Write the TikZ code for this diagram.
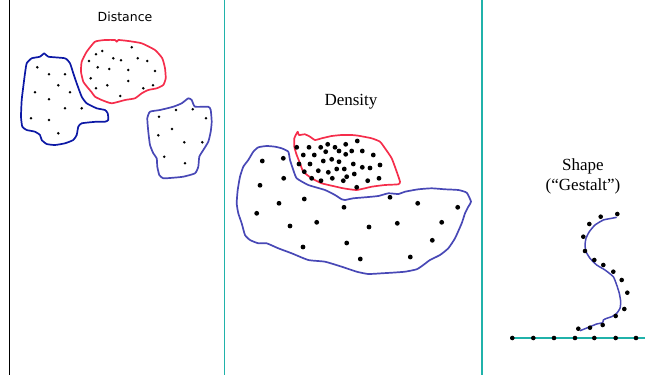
\documentclass[tikz,border=0pt]{standalone}
\usepackage{fontspec}
\setmainfont{Liberation Serif}
\newfontfamily\handfont{DejaVu Sans}
\usetikzlibrary{positioning}
\definecolor{divteal}{RGB}{32,178,170}
\definecolor{deepblue}{RGB}{12,24,165}
\definecolor{slateblue}{RGB}{72,72,182}
\definecolor{redline}{RGB}{245,45,75}

\begin{document}
\begin{tikzpicture}[x=1pt, y=-1pt,
  divider/.style={line width=1.5pt, draw=divteal},
  blob/.style={line width=1.7pt, line join=round},
  title/.style={font=\fontsize{17}{20}\selectfont, anchor=base, inner sep=0pt},
  handtitle/.style={font=\handfont\fontsize{12.5}{15}\selectfont, anchor=base, inner sep=0pt}]

\useasboundingbox (0,0) rectangle (645,375);

% panel borders
\draw[line width=1pt] (9.5,0) -- (9.5,375);
\draw[divider] (224.5,0) -- (224.5,375);
\draw[divider] (482,0) -- (482,375);

% panel 1: distance
\node[handtitle] (dist) at (125,21) {Distance};
\draw[blob, draw=deepblue] plot[smooth cycle, tension=0.3] coordinates {
  (44.3,53.3) (48.3,56.7) (65,58.3) (70,63.3) (73.3,73.3) (76.7,83.3) (81.7,96.7)
  (86.7,103.3) (96.7,108.3) (105,110) (107.7,113.3) (108.3,120) (105,121.7)
  (96.7,121.7) (81.7,123.3) (78.3,126.7) (76.7,135) (73.3,140) (65,143.3) (55,145)
  (46.7,144) (41.7,140) (40,135) (35,131.7) (26.7,130) (22.3,126.7) (21,116.7)
  (21.7,100) (23.3,86.7) (25,73.3) (26.7,63.3) (31.7,58.3) (40,56.7)};
\draw[blob, draw=redline] plot[smooth cycle, tension=0.3] coordinates {
  (95,41.7) (105,40) (115,40) (116.7,41.7) (118.3,40) (128.3,41) (141.7,43.3) (155,50)
  (162.3,58.3) (165,68.3) (165.7,78.3) (163.3,85) (156.7,88.3) (148.3,90) (141.7,93.3)
  (135,98.3) (125,100) (111.7,103.3) (101.7,100) (95,96.7) (91.7,92.3) (88.3,88.3)
  (83.3,81.7) (81,71.7) (81.7,61.7) (86.7,51.7)};
\draw[blob, draw=slateblue] plot[smooth cycle, tension=0.3] coordinates {
  (150,111.7) (160,110) (173.3,106.7) (181.7,103.3) (188.3,98.3) (191.7,100) (195,106.7)
  (208.3,106.7) (210.7,110) (211.7,121.7) (210.7,131.7) (208.3,141.7) (203.3,150)
  (199.3,156.7) (198.3,166.7) (195,173.3) (183.3,176.7) (173.3,177.7) (163.3,178.3)
  (159.3,175) (157.3,166.7) (156.7,158.3) (153.3,153.3) (150,145) (148.3,131.7) (147.3,118.3)};
\foreach \p in {(37.3,67.3),(49,74.3),(65,74.3),(58.3,85.3),(35,92.3),(70,92.3),
  (49,99.3),(65,108.3),(81.7,108.3),(31,118.3),(49,120),(58.3,133.3),
  (96,54.3),(102.3,51),(131.7,47.3),(89,61),(113.3,58.3),(121,60.3),(137.7,58.3),
  (147.3,61),(97.7,67.3),(109.3,69),(128.3,70),(155,71),(90.7,78.3),(128.3,81),
  (96,88.3),(107.3,85.3),(143.3,88.3),(153,85.3),(120.3,96),
  (159,116.7),(176,110),(192.7,109.3),(206,118.3),(172,129),(158.3,135.3),
  (184.3,142.3),(202.3,142.3),(164.3,156.7),(185,163.3)}
  \fill \p circle[radius=1.4pt];

% panel 2: density
\node[title] (dens) at (351,105.7) {Density};
\draw[blob, draw=slateblue] plot[smooth cycle, tension=0.3] coordinates {
  (253.3,151.7) (258.3,147.3) (266.7,146) (275,146.7) (281.7,148.3) (288.3,151.7)
  (290,160) (293.3,170) (296.7,178.3) (308.3,185) (325,190) (335,195) (341.7,199.3)
  (345,200) (353.3,198.3) (365,197.3) (378.3,196) (388.3,193.3) (398.3,194) (405,191.7)
  (418.3,189.3) (431.7,188.3) (445,189.3) (458.3,190) (466.7,192.7) (471,201.7)
  (468.3,206.7) (465,213.3) (461.7,223.3) (455,238.3) (448.3,248.3) (440,255) (430,260)
  (423.3,265) (416.7,269.3) (405,271.7) (391.7,272.7) (381.7,273.3) (368.3,274)
  (356.7,271.7) (341.7,266.7) (325,261.7) (308.3,260) (291.7,253.3) (278.3,248.3)
  (266.7,243.3) (258.3,243.3) (250,240) (245,235) (241.7,223.3) (238.3,213.3)
  (236.7,203.3) (237.7,190) (240,176.7) (243.3,166.7) (248.3,160)};
\draw[blob, draw=redline] plot[smooth cycle, tension=0.3] coordinates {
  (296.7,133.3) (297.7,131.7) (299,135) (305,134.3) (310,136.7) (315,140) (321.7,138.3)
  (331.7,136) (341.7,135) (351.7,135) (358.3,135.7) (371.7,138.3) (380,141.7) (385,148.3)
  (391.7,158.3) (396.7,171.7) (400,181.7) (398.3,184.3) (385,185) (371.7,186.7)
  (356.7,190) (343.3,188.3) (331.7,185.7) (321.7,183.3) (311.7,178.3) (303.3,171.7)
  (300,163.3) (296.7,155) (294.3,146.7) (294.3,138.3)};
\foreach \p in {(296.7,147.3),(309,147.3),(320.7,147.3),(327.7,144.3),(335,147.3),
  (345.7,144.3),(357.3,141),(303.3,155),(314.3,155),(325.7,151.7),(339,151),
  (345.7,154.3),(351.7,151),(362.3,151),(373.3,155),(299,164),(310,164),(323.3,161),
  (331.7,159.3),(339,161.7),(353.3,164),(362.3,167.3),(370,168),(380,165),
  (304.3,171.7),(318.3,170.7),(328.3,172.3),(336.7,169),(344.3,169),(354.3,174),
  (346.7,176.7),(311.7,178.3),(321,180.7),(332.3,178.3),(343.3,180.7),(367.7,180.7),
  (379,178.3),(356.7,187.3),
  (262.3,161),(283.3,158.3),(283.7,178.3),(260,185.3),(304.3,199),(279,203.3),
  (344,207.3),(390,197.3),(417.7,203.3),(457.7,207.3),(256.7,213.3),(290,226),
  (316.7,222.3),(369,227),(397.3,223.3),(441.7,222.3),(303,247),(346.7,243),
  (432.3,240.3),(360.3,259),(410.3,257)}
  \fill \p circle[radius=2.4pt];

% panel 3: shape
\node[title] (shape) at (583,170) {Shape};
\node[title] (gestalt) at (583,190) {(“Gestalt”)};
\draw[blob, draw=slateblue, line width=1.5pt] plot[smooth, tension=0.3] coordinates {
  (616.7,217.3) (611.7,218.3) (603.3,220) (595,225) (589.3,231.7) (586,238.3) (585,245)
  (586,251.7) (590,258.3) (596.7,265) (605,270) (613.3,276.7) (616.7,285) (619.3,293.3)
  (620.7,301.7) (620,308.3) (616.7,313.3) (611.7,316.7) (606.7,318.3) (603.3,320)
  (602.7,322.7) (596.7,324) (590,326.7) (580,330.7)};
\draw[divider, line width=1.8pt] (510,338) -- (645,338);
\foreach \p in {(617.3,214),(600.7,216.7),(589.3,224),(583.3,236.7),(585,251),
  (594.3,260),(603.3,265),(613.3,271.7),(621.7,280),(627.3,292.7),(624.3,309),
  (615.7,316),(602.7,325),(590,327.7),(578.3,328.7),
  (512.3,338),(533.3,338),(554,338),(575,338),(594.3,338),(615.7,338),(636,338)}
  \fill \p circle[radius=2.3pt];
\end{tikzpicture}
\end{document}
